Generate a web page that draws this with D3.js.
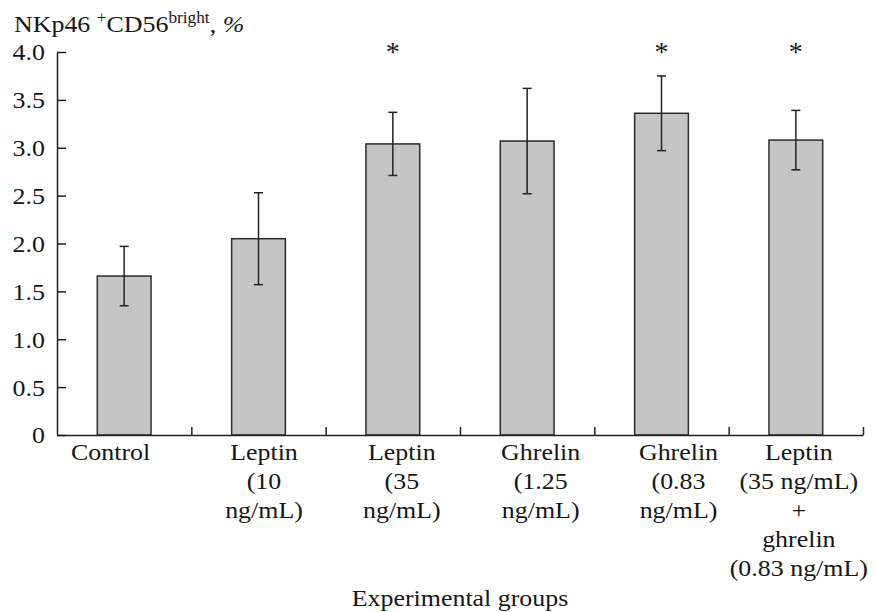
<!DOCTYPE html>
<html>
<head>
<meta charset="utf-8">
<script src="https://cdn.jsdelivr.net/npm/d3@7/dist/d3.min.js"></script>
<style>
  body { margin: 0; padding: 0; background: #fff; }
  svg text { font-family: 'Liberation Serif', 'Times New Roman', serif; fill: #161616; }
</style>
</head>
<body>
<script>
// groups, shown as multi-line labels under the axis
var categories = [
  ["Control"],
  ["Leptin", "(10", "ng/mL)"],
  ["Leptin", "(35", "ng/mL)"],
  ["Ghrelin", "(1.25", "ng/mL)"],
  ["Ghrelin", "(0.83", "ng/mL)"],
  ["Leptin", "(35 ng/mL)", "+", "ghrelin", "(0.83 ng/mL)"]
];
var means  = [1.66, 2.05, 3.04, 3.07, 3.36, 3.08];
var errors = [0.31, 0.48, 0.33, 0.55, 0.39, 0.31];
var significant = [false, false, true, false, true, true];
var yTicks = [0, 0.5, 1.0, 1.5, 2.0, 2.5, 3.0, 3.5, 4.0];

var W = 877, H = 612;
var mLeft = 57, mRight = 863, mTop = 52, mBottom = 435;
var fs = 24;
var sx = 1.08; // the journal font is a bit wider than Times

var svg = d3.select("body").append("svg")
  .attr("width", W).attr("height", H);

var names = categories.map(function (c) { return c.join(" "); });

var x = d3.scaleBand().domain(names).range([mLeft, mRight])
  .paddingInner(0.6).paddingOuter(0.3);
var xEdge = d3.scaleLinear().domain([0, names.length]).range([mLeft, mRight]);
var y = d3.scaleLinear().domain([0, 4]).range([mBottom, mTop]);

function cx(i) { return x(names[i]) + x.bandwidth() / 2; }

// bars
svg.selectAll("rect.bar").data(means).enter().append("rect")
  .attr("class", "bar")
  .attr("x", function (d, i) { return x(names[i]); })
  .attr("y", function (d) { return y(d); })
  .attr("width", x.bandwidth())
  .attr("height", function (d) { return y(0) - y(d); })
  .attr("fill", "#c4c5c4")
  .attr("stroke", "#2a2a2a")
  .attr("stroke-width", 1.5);

// error bars
var eb = svg.selectAll("g.err").data(means).enter().append("g")
  .attr("class", "err")
  .attr("stroke", "#222").attr("stroke-width", 1.5);
eb.append("line")
  .attr("x1", function (d, i) { return cx(i); })
  .attr("x2", function (d, i) { return cx(i); })
  .attr("y1", function (d, i) { return y(d + errors[i]); })
  .attr("y2", function (d, i) { return y(d - errors[i]); });
[1, -1].forEach(function (s) {
  eb.append("line")
    .attr("x1", function (d, i) { return cx(i) - 4.5; })
    .attr("x2", function (d, i) { return cx(i) + 4.5; })
    .attr("y1", function (d, i) { return y(d + s * errors[i]); })
    .attr("y2", function (d, i) { return y(d + s * errors[i]); });
});

// asterisks
svg.selectAll("text.star").data(d3.range(means.length).filter(function (i) { return significant[i]; }))
  .enter().append("text")
  .attr("class", "star")
  .attr("text-anchor", "middle")
  .attr("font-size", 28)
  .attr("transform", function (i) { return "translate(" + cx(i) + ",61)"; })
  .text("*");

// y axis
var yAxis = d3.axisLeft(y).tickValues(yTicks)
  .tickSizeInner(-9).tickSizeOuter(0).tickPadding(0)
  .tickFormat(function (d) { return d === 0 ? "0" : d.toFixed(1); });
var gy = svg.append("g").attr("transform", "translate(" + mLeft + ",0)").call(yAxis);
gy.selectAll("path, line").attr("stroke", "#222").attr("stroke-width", 1.5);
gy.attr("font-family", null).attr("font-size", null);
gy.selectAll("text")
  .attr("fill", "#161616")
  .attr("font-size", fs)
  .attr("x", -12 / sx).attr("dy", "0.33em")
  .attr("transform", "scale(" + sx + ",1)");

// x axis: ticks between groups
var xAxis = d3.axisBottom(xEdge).tickValues(d3.range(1, names.length + 1))
  .tickSizeInner(-8).tickSizeOuter(0).tickFormat("");
var gx = svg.append("g").attr("transform", "translate(0," + mBottom + ")").call(xAxis);
gx.selectAll("path, line").attr("stroke", "#222").attr("stroke-width", 1.5);

// group labels (hand-nudged like in the figure)
var labelShift = [-13.5, 5.5, 9, 13.5, 17, 3];
var lab = svg.selectAll("text.cat").data(categories).enter().append("text")
  .attr("class", "cat")
  .attr("text-anchor", "middle")
  .attr("font-size", fs)
  .attr("transform", function (d, i) {
    return "translate(" + (cx(i) + labelShift[i]) + ",460) scale(" + sx + ",1)";
  });
lab.selectAll("tspan").data(function (d) { return d; }).enter().append("tspan")
  .attr("x", 0)
  .attr("dy", function (d, i) { return i === 0 ? 0 : 29; })
  .text(function (d) { return d; });

// axis title
svg.append("text")
  .attr("text-anchor", "middle")
  .attr("font-size", fs)
  .attr("transform", "translate(" + (mLeft + mRight) / 2 + ",606) scale(" + sx + ",1)")
  .text("Experimental groups");

// y title
var t = svg.append("text")
  .attr("font-size", fs)
  .attr("transform", "translate(14,32) scale(" + sx + ",1)");
t.append("tspan").text("NKp46 ");
t.append("tspan").attr("font-size", 16).attr("dy", -9).text("+");
t.append("tspan").attr("dy", 9).text("CD56");
t.append("tspan").attr("font-size", 16).attr("dy", -9).text("bright");
t.append("tspan").attr("dy", 9).text(", ");
t.append("tspan").attr("font-style", "italic").text("%");
</script>
</body>
</html>
